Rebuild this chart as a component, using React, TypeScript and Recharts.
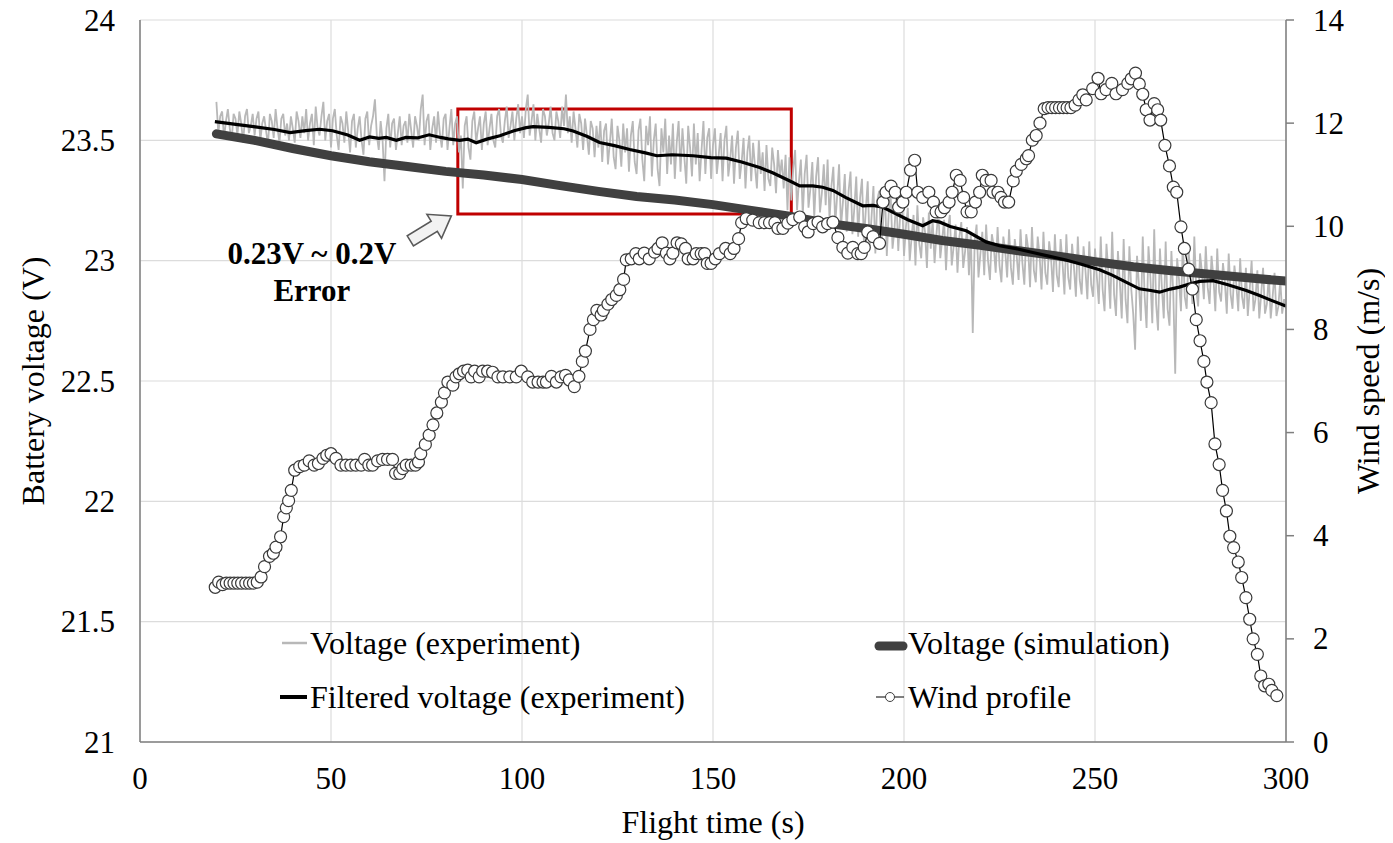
import React from 'react';
import { ComposedChart, Line, XAxis, YAxis, CartesianGrid, ReferenceArea, ReferenceDot, Label } from 'recharts';

const FONT = "'Liberation Serif', 'Times New Roman', Times, serif";
const W = 1393;
const H = 843;

const X_TICKS = [0, 50, 100, 150, 200, 250, 300];
const VOLT_TICKS = [21, 21.5, 22, 22.5, 23, 23.5, 24];
const WIND_TICKS = [0, 2, 4, 6, 8, 10, 12, 14];

// Voltage (experiment): raw samples every 0.5 s from 20 s (one row = 10 s)
const EXP_START = 20;
const EXP_STEP = 0.5;
const EXP_VOLTAGE = [
  23.66, 23.53, 23.60, 23.62, 23.51, 23.58, 23.63, 23.55, 23.50, 23.61, 23.59, 23.52, 23.62, 23.57, 23.49, 23.60, 23.63, 23.53, 23.56, 23.61,
  23.52, 23.59, 23.62, 23.50, 23.57, 23.60, 23.54, 23.48, 23.61, 23.58, 23.51, 23.63, 23.55, 23.49, 23.59, 23.61, 23.52, 23.57, 23.50, 23.60,
  23.55, 23.49, 23.62, 23.58, 23.51, 23.60, 23.53, 23.63, 23.50, 23.57, 23.61, 23.48, 23.64, 23.55, 23.52, 23.60, 23.66, 23.50, 23.58, 23.61,
  23.47, 23.59, 23.63, 23.52, 23.46, 23.60, 23.57, 23.49, 23.62, 23.54, 23.45, 23.58, 23.61, 23.47, 23.55, 23.60, 23.50, 23.44, 23.59, 23.62,
  23.48, 23.56, 23.60, 23.67, 23.52, 23.46, 23.58, 23.50, 23.33, 23.55, 23.61, 23.47, 23.57, 23.59, 23.46, 23.53, 23.60, 23.48, 23.56, 23.58,
  23.49, 23.61, 23.54, 23.47, 23.60, 23.56, 23.50, 23.63, 23.69, 23.48, 23.58, 23.61, 23.46, 23.55, 23.60, 23.49, 23.62, 23.53, 23.47, 23.59,
  23.61, 23.46, 23.55, 23.63, 23.48, 23.57, 23.60, 23.45, 23.52, 23.30, 23.56, 23.60, 23.47, 23.42, 23.58, 23.62, 23.49, 23.55, 23.60, 23.46,
  23.57, 23.62, 23.48, 23.55, 23.61, 23.50, 23.47, 23.60, 23.63, 23.52, 23.49, 23.58, 23.64, 23.51, 23.56, 23.62, 23.50, 23.59, 23.65, 23.53,
  23.60, 23.51, 23.63, 23.69, 23.52, 23.58, 23.65, 23.50, 23.61, 23.55, 23.49, 23.63, 23.60, 23.52, 23.57, 23.64, 23.53, 23.50, 23.62, 23.58,
  23.51, 23.64, 23.56, 23.69, 23.53, 23.60, 23.49, 23.62, 23.55, 23.47, 23.61, 23.57, 23.46, 23.59, 23.52, 23.44, 23.58, 23.55, 23.43, 23.56,
  23.47, 23.58, 23.41, 23.54, 23.57, 23.40, 23.49, 23.59, 23.43, 23.38, 23.56, 23.50, 23.39, 23.57, 23.45, 23.55, 23.37, 23.52, 23.58, 23.41,
  23.36, 23.54, 23.59, 23.42, 23.33, 23.56, 23.48, 23.60, 23.35, 23.50, 23.57, 23.38, 23.31, 23.55, 23.45, 23.59, 23.36, 23.52, 23.40, 23.57,
  23.34, 23.49, 23.58, 23.37, 23.55, 23.43, 23.32, 23.56, 23.47, 23.35, 23.57, 23.40, 23.53, 23.33, 23.46, 23.58, 23.36, 23.51, 23.55, 23.34,
  23.48, 23.55, 23.36, 23.44, 23.53, 23.33, 23.50, 23.56, 23.35, 23.42, 23.52, 23.32, 23.47, 23.54, 23.34, 23.41, 23.51, 23.30, 23.45, 23.52,
  23.33, 23.49, 23.39, 23.30, 23.50, 23.36, 23.45, 23.29, 23.48, 23.34, 23.31, 23.47, 23.40, 23.28, 23.46, 23.35, 23.42, 23.30, 23.44, 23.21,
  23.43, 23.25, 23.38, 23.46, 23.21, 23.33, 23.42, 23.19, 23.36, 23.44, 23.22, 23.30, 23.41, 23.18, 23.35, 23.43, 23.20, 23.28, 23.40, 23.23,
  23.42, 23.17, 23.31, 23.39, 23.15, 23.27, 23.40, 23.14, 23.24, 23.36, 23.12, 23.29, 23.37, 23.11, 23.22, 23.35, 23.10, 23.26, 23.34, 23.08,
  23.21, 23.33, 23.06, 23.18, 23.31, 23.03, 23.25, 23.29, 23.07, 23.15, 23.30, 23.02, 23.20, 23.28, 23.05, 23.13, 23.27, 23.04, 23.19, 23.26,
  23.02, 23.14, 23.22, 23.00, 23.10, 23.19, 22.98, 23.23, 23.07, 23.01, 23.18, 23.12, 22.97, 23.20, 23.05, 23.17, 22.99, 23.11, 23.21, 23.01,
  23.09, 23.17, 22.96, 23.13, 23.19, 22.98, 23.06, 23.15, 22.95, 23.10, 23.16, 22.97, 23.04, 23.14, 22.94, 23.12, 22.70, 23.08, 23.15, 22.93,
  23.03, 23.12, 22.94, 23.15, 23.00, 22.92, 23.11, 23.06, 22.95, 23.14, 22.98, 22.91, 23.10, 23.04, 22.93, 23.13, 22.97, 22.90, 23.09, 23.02,
  22.92, 23.13, 22.99, 22.90, 23.11, 23.05, 22.89, 23.14, 22.96, 22.91, 23.10, 23.02, 22.88, 23.12, 22.95, 22.90, 23.08, 23.01, 22.87, 23.11,
  22.94, 22.89, 23.09, 22.99, 22.86, 23.11, 22.93, 22.88, 23.07, 22.97, 22.85, 23.10, 22.92, 22.86, 23.06, 22.96, 22.84, 23.08, 22.90, 22.85,
  23.05, 22.93, 22.82, 23.10, 22.88, 22.79, 23.07, 22.95, 22.80, 23.12, 22.86, 22.77, 23.04, 22.91, 22.76, 23.09, 22.84, 22.74, 23.06, 22.88,
  22.78, 22.63, 23.02, 22.90, 22.75, 23.10, 22.85, 22.72, 23.06, 22.93, 22.74, 23.13, 22.82, 22.71, 23.05, 22.89, 22.76, 23.08, 22.80, 22.73,
  23.04, 22.86, 22.53, 23.01, 22.92, 22.79, 23.08, 22.85, 22.80, 23.04, 22.94, 22.82, 23.10, 22.88, 22.81, 23.03, 22.95, 22.84, 23.06, 22.89,
  22.82, 23.02, 22.93, 22.79, 23.05, 22.87, 22.83, 22.99, 22.91, 22.78, 23.03, 22.86, 22.80, 22.98, 22.90, 22.79, 23.01, 22.85, 22.80, 22.97,
  22.77, 22.88, 23.00, 22.79, 22.84, 22.96, 22.76, 22.86, 22.97, 22.78, 22.82, 22.94, 22.76, 22.85, 22.95, 22.77, 22.81, 22.92, 22.78, 22.84,
  22.80,
];

// Voltage (simulation)
const SIM_TIME = [20, 30, 40, 50, 60, 70, 80, 90, 100, 110, 120, 130, 140, 150, 160, 170, 180, 190, 200, 210, 220, 230, 240, 250, 260, 270, 280, 290, 300];
const SIM_VOLTAGE = [23.527, 23.5, 23.466, 23.436, 23.411, 23.391, 23.371, 23.356, 23.337, 23.312, 23.288, 23.267, 23.252, 23.233, 23.209, 23.185, 23.155, 23.134, 23.11, 23.084, 23.064, 23.041, 23.02, 22.996, 22.975, 22.958, 22.944, 22.929, 22.915];

// Filtered voltage (experiment): [time s, voltage V]
const FILTERED: [number, number][] = [
  [19.6, 23.578], [25.1, 23.566], [30.2, 23.556], [35.2, 23.545], [39.3, 23.532], [43.3, 23.54],
  [47.0, 23.546], [50.4, 23.54], [54.4, 23.522], [57.5, 23.5], [60.1, 23.514], [62.5, 23.508],
  [64.5, 23.512], [67.1, 23.5], [69.6, 23.512], [72.6, 23.51], [75.7, 23.523], [78.7, 23.512],
  [80.7, 23.506], [83.7, 23.5], [85.8, 23.505], [88.0, 23.49], [90.8, 23.505], [94.2, 23.519],
  [97.9, 23.54], [101.1, 23.553], [102.9, 23.557], [107.0, 23.554], [111.0, 23.548], [113.4, 23.539],
  [117.1, 23.516], [120.3, 23.491], [124.2, 23.478], [128.2, 23.462], [132.3, 23.448], [135.3, 23.436],
  [139.3, 23.44], [144.8, 23.436], [149.4, 23.428], [153.5, 23.426], [157.5, 23.41], [162.2, 23.387],
  [165.6, 23.365], [170.0, 23.332], [172.7, 23.311], [176.1, 23.311], [178.7, 23.305], [181.4, 23.292],
  [184.8, 23.262], [189.2, 23.228], [191.9, 23.23], [194.5, 23.222], [197.9, 23.195], [201.0, 23.17],
  [204.9, 23.145], [207.5, 23.166], [209.4, 23.16], [212.1, 23.142], [216.3, 23.124], [221.5, 23.078],
  [225.0, 23.062], [229.3, 23.05], [233.7, 23.034], [237.3, 23.021], [242.4, 23.003], [246.4, 22.985],
  [251.2, 22.962], [254.5, 22.94], [257.6, 22.915], [261.6, 22.883], [264.6, 22.876], [266.9, 22.869],
  [269.7, 22.882], [272.1, 22.89], [274.7, 22.903], [277.4, 22.914], [280.9, 22.917], [284.8, 22.9],
  [289.6, 22.876], [292.9, 22.856], [296.0, 22.836], [299.6, 22.814], [300, 22.812],
];

// Wind profile: [time s, wind speed m/s]
const WIND: [number, number][] = [
  [19.7, 3.0], [20.6, 3.1], [21.6, 3.05], [22.6, 3.08], [23.6, 3.08], [24.6, 3.08], [25.6, 3.08], [26.6, 3.08],
  [27.7, 3.08], [28.7, 3.08], [29.7, 3.08], [30.7, 3.1], [31.7, 3.2], [32.6, 3.4], [33.9, 3.6], [34.9, 3.66],
  [35.6, 3.78], [36.8, 3.98], [37.6, 4.37], [38.3, 4.54], [38.9, 4.68], [39.6, 4.88], [40.5, 5.27], [41.8, 5.34],
  [43.0, 5.37], [44.3, 5.45], [45.6, 5.37], [46.7, 5.4], [47.9, 5.5], [48.9, 5.56], [50.0, 5.59], [51.3, 5.5],
  [52.6, 5.37], [53.9, 5.37], [55.2, 5.37], [56.5, 5.37], [57.9, 5.37], [58.8, 5.48], [59.9, 5.37], [60.9, 5.37],
  [62.2, 5.45], [63.5, 5.48], [64.8, 5.48], [66.1, 5.48], [66.9, 5.21], [68.0, 5.21], [68.8, 5.3], [69.7, 5.37],
  [71.0, 5.37], [72.1, 5.37], [72.9, 5.43], [73.5, 5.59], [74.7, 5.77], [75.7, 5.95], [76.7, 6.15], [77.7, 6.38],
  [78.9, 6.59], [79.7, 6.77], [80.6, 6.98], [81.9, 6.92], [82.7, 7.08], [83.6, 7.14], [84.7, 7.19], [85.8, 7.21],
  [86.7, 7.08], [87.6, 7.19], [88.8, 7.08], [89.7, 7.19], [91.0, 7.19], [92.3, 7.17], [93.7, 7.08], [95.0, 7.08],
  [96.8, 7.08], [98.5, 7.08], [99.8, 7.19], [101.5, 7.08], [102.8, 6.98], [104.2, 6.98], [105.5, 6.98], [106.4, 6.98],
  [107.7, 7.09], [109.0, 6.98], [110.2, 7.08], [111.4, 7.11], [112.4, 7.02], [113.7, 6.89], [114.9, 7.09], [115.8, 7.38],
  [116.6, 7.58], [117.8, 8.0], [118.7, 8.19], [119.6, 8.37], [120.7, 8.28], [121.3, 8.37], [122.5, 8.49], [123.5, 8.58],
  [124.7, 8.66], [125.6, 8.77], [126.6, 8.97], [127.3, 9.35], [128.6, 9.37], [129.8, 9.47], [130.7, 9.37], [132.0, 9.48],
  [133.3, 9.37], [134.7, 9.5], [135.6, 9.57], [136.7, 9.68], [137.8, 9.48], [138.7, 9.37], [139.5, 9.48], [140.6, 9.68],
  [141.7, 9.66], [142.8, 9.57], [143.5, 9.37], [144.8, 9.37], [145.6, 9.47], [146.9, 9.47], [147.8, 9.47], [148.5, 9.28],
  [149.5, 9.28], [150.6, 9.37], [151.7, 9.47], [153.3, 9.57], [154.5, 9.47], [155.5, 9.57], [156.7, 9.76], [157.5, 10.07],
  [158.7, 10.15], [160.4, 10.12], [162.1, 10.07], [163.5, 10.07], [164.8, 10.07], [166.2, 10.07], [167.0, 9.96], [168.3, 9.96],
  [169.6, 10.06], [170.9, 10.13], [172.7, 10.18], [174.0, 9.99], [174.9, 9.89], [176.2, 10.05], [177.5, 10.08], [178.7, 9.99],
  [180.0, 10.05], [181.4, 10.08], [182.7, 9.78], [184.0, 9.59], [185.3, 9.48], [186.6, 9.59], [187.9, 9.47], [188.8, 9.47],
  [189.6, 9.59], [190.5, 9.89], [191.9, 9.8], [193.6, 9.67], [194.5, 10.47], [195.3, 10.66], [196.6, 10.78], [197.7, 10.66],
  [198.6, 10.37], [199.7, 10.47], [200.6, 10.66], [201.7, 11.09], [202.8, 11.28], [203.6, 10.66], [204.9, 10.56], [206.5, 10.66],
  [207.7, 10.47], [208.4, 10.28], [209.7, 10.28], [210.6, 10.36], [211.8, 10.47], [212.6, 10.66], [213.7, 10.99], [214.7, 10.89],
  [215.6, 10.56], [216.5, 10.28], [217.6, 10.28], [218.7, 10.47], [219.8, 10.66], [220.5, 10.99], [221.5, 10.89], [222.8, 10.89],
  [223.3, 10.66], [224.6, 10.66], [225.4, 10.56], [226.3, 10.47], [227.4, 10.47], [228.6, 10.88], [229.4, 11.07], [230.7, 11.2],
  [232.0, 11.31], [232.6, 11.37], [233.6, 11.67], [234.6, 11.76], [235.6, 12.0], [236.7, 12.28], [237.7, 12.3], [238.7, 12.3],
  [239.7, 12.3], [240.7, 12.3], [241.7, 12.3], [242.7, 12.3], [243.7, 12.3], [244.8, 12.35], [245.8, 12.45], [246.8, 12.55],
  [247.7, 12.45], [249.4, 12.67], [250.8, 12.87], [251.6, 12.57], [252.9, 12.65], [254.4, 12.77], [255.5, 12.57], [257.2, 12.65],
  [258.6, 12.77], [259.5, 12.86], [260.6, 12.97], [261.6, 12.76], [262.5, 12.56], [263.4, 12.26], [264.4, 12.06], [265.5, 12.38],
  [266.4, 12.26], [267.2, 12.06], [268.3, 11.57], [269.5, 11.17], [270.5, 10.76], [271.4, 10.66], [272.5, 9.99], [273.4, 9.57],
  [274.5, 9.17], [275.5, 8.78], [276.5, 8.19], [277.5, 7.78], [278.5, 7.38], [279.3, 6.98], [280.4, 6.58], [281.4, 5.78],
  [282.5, 5.38], [283.4, 4.88], [284.4, 4.48], [285.3, 3.99], [286.3, 3.77], [287.5, 3.49], [288.4, 3.19], [289.5, 2.8],
  [290.5, 2.38], [291.4, 2.0], [292.5, 1.7], [293.4, 1.28], [294.4, 1.09], [295.5, 1.12], [296.3, 1.0], [297.6, 0.9],
];

// Annotation
const ERROR_BOX = { x1: 83.2, x2: 170.5, y1: 23.194, y2: 23.63 };
const ARROW_TIP = { t: 81.5, v: 23.186 };
const NOTE_ANCHOR = { t: 45, v: 22.986 };
const NOTE_LINES = ['0.23V ~ 0.2V', 'Error'];

const expData = EXP_VOLTAGE.map((v, i) => ({ t: EXP_START + i * EXP_STEP, v }));
const simData = SIM_TIME.map((t, i) => ({ t, v: SIM_VOLTAGE[i] }));
const filtData = FILTERED.map(([t, v]) => ({ t, v }));
const windData = WIND.map(([t, w]) => ({ t, w }));

const AXIS_LINE = { stroke: '#7f7f7f', strokeWidth: 1.5 };
const TICK_FS = 31;

const makeTick = (anchor: 'start' | 'middle' | 'end', dx: number, dy: number) => (p: any) => (
  <text
    x={p.x + dx}
    y={p.y + dy}
    textAnchor={anchor}
    dominantBaseline="central"
    fontFamily={FONT}
    fontSize={TICK_FS}
    fill="#000"
  >
    {p.payload && p.payload.value}
  </text>
);
const LeftTick = makeTick('end', 0, 0);
const RightTick = makeTick('start', 0, 0);
const BottomTick = makeTick('middle', 0, 0);

const ArrowShape = (p: any) => {
  const { cx, cy } = p;
  if (cx == null || cy == null) return null;
  const pts = '0,0 -9.8,22.4 -14,15.5 -37.9,30.1 -44.1,19.9 -20.2,5.3 -24.4,-1.6';
  return (
    <polygon
      transform={`translate(${cx},${cy})`}
      points={pts}
      fill="#f2f2f2"
      stroke="#595959"
      strokeWidth={1.6}
      strokeLinejoin="miter"
    />
  );
};

const NoteShape = (p: any) => {
  const { cx, cy } = p;
  if (cx == null || cy == null) return null;
  return (
    <g>
      {NOTE_LINES.map((s, i) => (
        <text key={s} x={cx} y={cy + i * 37} textAnchor="middle" fontFamily={FONT} fontWeight="bold" fontSize={31} fill="#000">
          {s}
        </text>
      ))}
    </g>
  );
};

const LegendOverlay = () => (
  <svg width={W} height={H} style={{ position: 'absolute', left: 0, top: 0, pointerEvents: 'none' }}>
    <g fontFamily={FONT} fontSize={32} fill="#000">
      <line x1={282} y1={643} x2={307} y2={643} stroke="#b8b8b8" strokeWidth={2.5} />
      <text x={310} y={643} dominantBaseline="central">Voltage (experiment)</text>
      <line x1={280} y1={697} x2={307} y2={697} stroke="#000" strokeWidth={4} />
      <text x={310} y={697} dominantBaseline="central">Filtered voltage (experiment)</text>
      <line x1={879} y1={646} x2={903} y2={646} stroke="#404040" strokeWidth={9} strokeLinecap="round" />
      <text x={908} y={643} dominantBaseline="central">Voltage (simulation)</text>
      <line x1={876} y1={697} x2={904} y2={697} stroke="#000" strokeWidth={1} />
      <circle cx={890} cy={697} r={4.5} fill="#fff" stroke="#404040" strokeWidth={1} />
      <text x={908} y={697} dominantBaseline="central">Wind profile</text>
    </g>
  </svg>
);

export default function App() {
  return (
    <div style={{ position: 'relative', width: W, height: H, margin: '-8px 0 0 -8px', background: '#fff', fontFamily: FONT }}>
      <ComposedChart width={W} height={H} margin={{ top: 20, right: 0, bottom: 0, left: 0 }}>
        <CartesianGrid yAxisId="left" stroke="#dcdcdc" strokeWidth={1.2} />
        <XAxis
          dataKey="t"
          type="number"
          domain={[0, 300]}
          ticks={X_TICKS}
          interval={0}
          allowDataOverflow
          height={101}
          tickLine={false}
          tickSize={0}
          tickMargin={36}
          axisLine={AXIS_LINE}
          tick={BottomTick}
        >
          <Label
            content={(props: any) => {
              const vb = props.viewBox || { x: 140, y: 742, width: 1146, height: 101 };
              return (
                <text x={vb.x + vb.width / 2} y={vb.y + 80} textAnchor="middle" dominantBaseline="central" fontFamily={FONT} fontSize={32} fill="#000">
                  Flight time (s)
                </text>
              );
            }}
          />
        </XAxis>
        <YAxis
          yAxisId="left"
          domain={[21, 24]}
          ticks={VOLT_TICKS}
          interval={0}
          allowDataOverflow
          width={140}
          tickLine={false}
          tickSize={0}
          tickMargin={25}
          axisLine={AXIS_LINE}
          tick={LeftTick}
        >
          <Label
            content={(props: any) => {
              const vb = props.viewBox || { x: 0, y: 20, width: 140, height: 722 };
              const cx = vb.x + 33;
              const cy = vb.y + vb.height / 2;
              return (
                <text x={cx} y={cy} transform={`rotate(-90, ${cx}, ${cy})`} textAnchor="middle" dominantBaseline="central" fontFamily={FONT} fontSize={32} fill="#000">
                  Battery voltage (V)
                </text>
              );
            }}
          />
        </YAxis>
        <YAxis
          yAxisId="right"
          orientation="right"
          domain={[0, 14]}
          ticks={WIND_TICKS}
          interval={0}
          allowDataOverflow
          width={107}
          tickLine={{ stroke: '#7f7f7f', strokeWidth: 1.5 }}
          tickSize={8}
          tickMargin={19}
          axisLine={AXIS_LINE}
          tick={RightTick}
        >
          <Label
            content={(props: any) => {
              const vb = props.viewBox || { x: 1286, y: 20, width: 107, height: 722 };
              const cx = vb.x + 82;
              const cy = vb.y + vb.height / 2;
              return (
                <text x={cx} y={cy} transform={`rotate(-90, ${cx}, ${cy})`} textAnchor="middle" dominantBaseline="central" fontFamily={FONT} fontSize={32} fill="#000">
                  Wind speed (m/s)
                </text>
              );
            }}
          />
        </YAxis>

        <Line data={expData} dataKey="v" yAxisId="left" type="linear" stroke="#b8b8b8" strokeWidth={1.8} dot={false} activeDot={false} isAnimationActive={false} />
        <Line data={simData} dataKey="v" yAxisId="left" type="linear" stroke="#404040" strokeWidth={9} strokeLinecap="round" dot={false} activeDot={false} isAnimationActive={false} />
        <Line data={filtData} dataKey="v" yAxisId="left" type="linear" stroke="#000" strokeWidth={3.2} dot={false} activeDot={false} isAnimationActive={false} />
        <Line
          data={windData}
          dataKey="w"
          yAxisId="right"
          type="linear"
          stroke="#000"
          strokeWidth={1.2}
          dot={{ r: 6, fill: '#fff', stroke: '#3a3a3a', strokeWidth: 1.2 }}
          activeDot={false}
          isAnimationActive={false}
        />

        <ReferenceArea
          yAxisId="left"
          x1={ERROR_BOX.x1}
          x2={ERROR_BOX.x2}
          y1={ERROR_BOX.y1}
          y2={ERROR_BOX.y2}
          fill="none"
          fillOpacity={0}
          stroke="#c00000"
          strokeWidth={3}
          ifOverflow="visible"
        />
        <ReferenceDot yAxisId="left" x={ARROW_TIP.t} y={ARROW_TIP.v} ifOverflow="visible" shape={ArrowShape} />
        <ReferenceDot yAxisId="left" x={NOTE_ANCHOR.t} y={NOTE_ANCHOR.v} ifOverflow="visible" shape={NoteShape} />
      </ComposedChart>
      <LegendOverlay />
    </div>
  );
}
